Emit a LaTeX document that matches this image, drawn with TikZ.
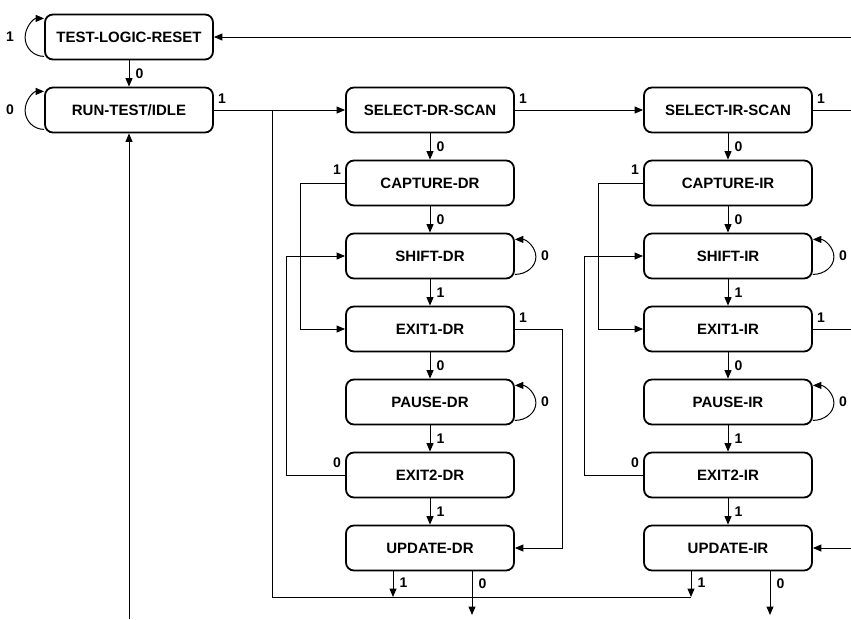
\documentclass[tikz,border=0pt]{standalone}
\usepackage{fontspec}
\setmainfont{Liberation Sans}
\usepackage{tikz}
\usetikzlibrary{arrows.meta,calc}
\tikzset{
  tap/.style={draw, rounded corners=8pt, line width=1.8pt, minimum width=168pt, minimum height=45pt,
              inner sep=0pt, font=\fontsize{15}{18}\selectfont\bfseries},
  wire/.style={line width=1pt},
  tr/.style={-{Triangle[length=8.5pt,width=7pt]}, line width=1pt},   % transition
  bit/.style={font=\fontsize{14}{16}\selectfont\bfseries, inner sep=1pt},
}

\begin{document}
\begin{tikzpicture}[x=1pt,y=1pt]
  \useasboundingbox (0,0) rectangle (851,-619);
  \def\R{129}\def\D{430}\def\I{728}
  \coordinate (edge) at (851,0);
  \coordinate (bus) at (0,-597);
  \coordinate (out) at (0,-615);
  \coordinate (rtiin) at (\R,-619);

  \node[tap] (tlr) at (\R,-37) {TEST-LOGIC-RESET};
  \node[tap] (rti) at (\R,-110) {RUN-TEST/IDLE};

  \foreach \c/\x/\T in {dr/\D/DR, ir/\I/IR}{
    \node[tap] (sel\c) at (\x,-110) {SELECT-\T-SCAN};
    \node[tap] (cap\c) at (\x,-183) {CAPTURE-\T};
    \node[tap] (sh\c)  at (\x,-256) {SHIFT-\T};
    \node[tap] (ea\c)  at (\x,-329) {EXIT1-\T};
    \node[tap] (pa\c)  at (\x,-402) {PAUSE-\T};
    \node[tap] (eb\c)  at (\x,-475) {EXIT2-\T};
    \node[tap] (up\c)  at (\x,-548) {UPDATE-\T};
    \draw[tr] (sel\c.south) -- (cap\c.north) node[bit, midway, right=5pt]{0};
    \draw[tr] (cap\c.south) -- (sh\c.north)  node[bit, midway, right=5pt]{0};
    \draw[tr] (sh\c.south)  -- (ea\c.north)  node[bit, midway, right=5pt]{1};
    \draw[tr] (ea\c.south)  -- (pa\c.north)  node[bit, midway, right=5pt]{0};
    \draw[tr] (pa\c.south)  -- (eb\c.north)  node[bit, midway, right=5pt]{1};
    \draw[tr] (eb\c.south)  -- (up\c.north)  node[bit, midway, right=5pt]{1};
    % loops on shift / pause
    \draw[tr] ([yshift=5pt]sh\c.south east) arc[start angle=-90, end angle=90, x radius=21pt, y radius=17.5pt];
    \node[bit, anchor=west] at ([xshift=25pt]sh\c.east) {0};
    \draw[tr] ([yshift=5pt]pa\c.south east) arc[start angle=-90, end angle=90, x radius=21pt, y radius=17.5pt];
    \node[bit, anchor=west] at ([xshift=25pt]pa\c.east) {0};
    % capture -> exit1, exit2 -> shift
    \draw[tr] (cap\c.west) -- ++(-45,0) |- (ea\c.west);
    \node[bit, anchor=south east] at ([xshift=-3pt,yshift=7pt]cap\c.west) {1};
    \draw[tr] (eb\c.west) -- ++(-59,0) |- (sh\c.west);
    \node[bit, anchor=south east] at ([xshift=-3pt,yshift=6pt]eb\c.west) {0};
    \node[bit, anchor=south west] at ([xshift=3pt,yshift=5pt]sel\c.east) {1};
    \node[bit, anchor=south west] at ([xshift=3pt,yshift=5pt]ea\c.east) {1};
    % update exits
    \draw[tr] ([xshift=-37pt]up\c.south) -- ([xshift=-37pt]up\c.south |- bus)
      node[bit, pos=0.45, right=5pt]{1};
    \draw[tr] ([xshift=42pt]up\c.south) -- ([xshift=42pt]up\c.south |- out)
      node[bit, pos=0.28, right=5pt]{0};
  }

  % reset / idle
  \draw[tr] ([yshift=4pt]tlr.south west) arc[start angle=270, end angle=90, radius=19pt];
  \node[bit, anchor=east] at ([xshift=-29pt]tlr.west) {1};
  \draw[tr] ([yshift=4pt]rti.south west) arc[start angle=270, end angle=90, radius=19pt];
  \node[bit, anchor=east] at ([xshift=-29pt]rti.west) {0};
  \draw[tr] (tlr.south) -- (rti.north) node[bit, midway, right=5pt]{0};
  \draw[tr] (tlr.east -| edge) -- (tlr.east);
  \draw[tr] (rtiin) -- (rti.south);

  \coordinate (jn) at ($(rti.east)!0.45!(seldr.west)$);
  \draw[tr] (rti.east) -- (seldr.west);
  \node[bit, anchor=south west] at ([xshift=3pt,yshift=5pt]rti.east) {1};
  \draw[wire] (jn) -- (jn |- bus) -- ([xshift=-37pt]upir.south |- bus);
  \draw[tr] (seldr.east) -- (selir.west);
  \draw[tr] (eadr.east) -- ++(48,0) |- (updr.east);

  % off to the right
  \draw[wire] (selir.east) -- (selir.east -| edge);
  \draw[wire] (eair.east) -- (eair.east -| edge);
  \draw[tr] (upir.east -| edge) -- (upir.east);
\end{tikzpicture}
\end{document}
